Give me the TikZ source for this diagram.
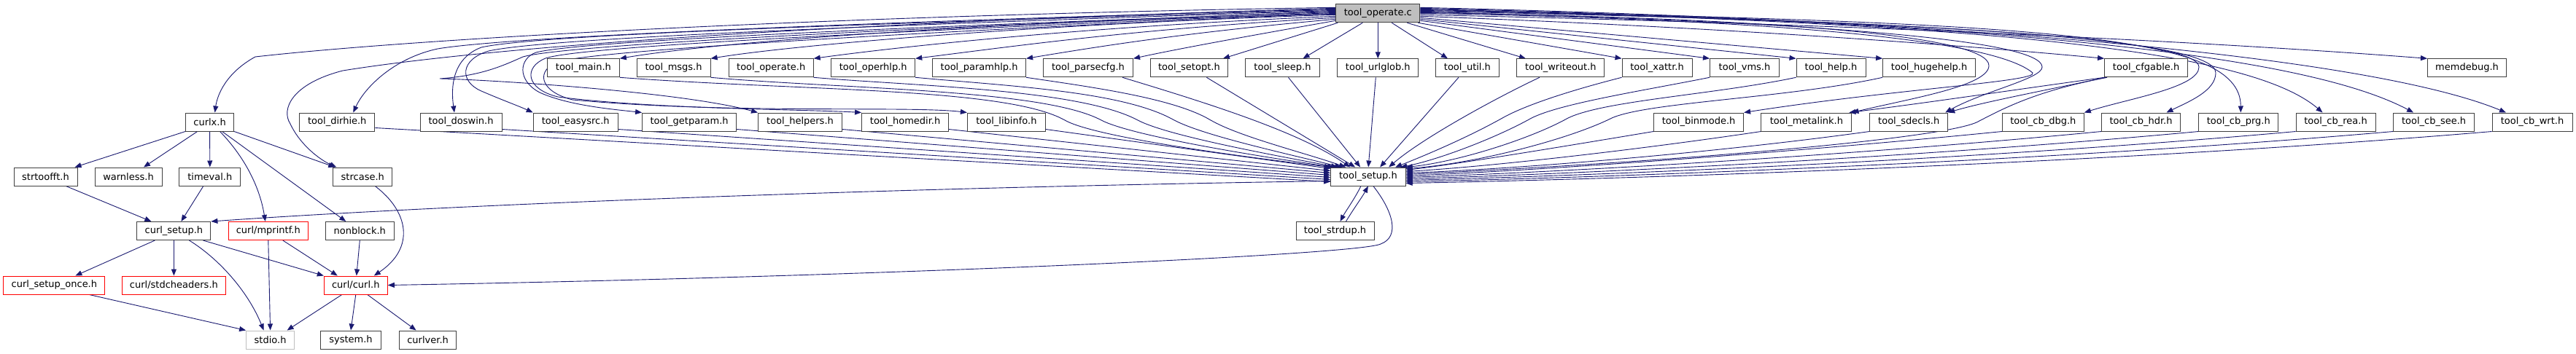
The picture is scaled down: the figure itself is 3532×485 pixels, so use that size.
\documentclass[tikz,border=0pt]{standalone}
\usepackage{fontspec}
\setmainfont{DejaVu Sans}
\usetikzlibrary{arrows.meta}
\pgfdeclarelayer{back}
\pgfdeclarelayer{bg}
\pgfsetlayers{back,bg,main}
\definecolor{edgec}{HTML}{191970}
\definecolor{nborder}{HTML}{404040}
\definecolor{redb}{HTML}{FF0000}
\definecolor{grayb}{HTML}{BFBFBF}
\definecolor{rootfill}{HTML}{BFBFBF}
\begin{document}
\begin{tikzpicture}[x=1pt,y=-1pt,
  nbox/.style={draw=nborder, line width=1pt, fill=white, minimum height=25pt, inner sep=0pt, font=\fontsize{13}{15}\selectfont, text=black},
  redbox/.style={nbox, draw=redb},
  graybox/.style={nbox, draw=grayb},
  rootbox/.style={nbox, fill=rootfill},
  inc/.style={draw=edgec, line width=0.9pt, -{Triangle[length=9pt,width=7pt]}}
]
\useasboundingbox (0,0) rectangle (3532,485);
\begin{pgfonlayer}{back}
\fill[white] (0,0) rectangle (3532,485);
\end{pgfonlayer}

% row 0
\node[rootbox, minimum width=115pt] (op) at (1889.3,18.3) {tool\_operate.c};
% row 1
\node[nbox, minimum width=99pt]  (main)     at (799.9,93.3)  {tool\_main.h};
\node[nbox, minimum width=101pt] (msgs)     at (923.6,93.3)  {tool\_msgs.h};
\node[nbox, minimum width=116pt] (operateh) at (1057.2,93.3) {tool\_operate.h};
\node[nbox, minimum width=115pt] (operhlp)  at (1197.2,93.3) {tool\_operhlp.h};
\node[nbox, minimum width=128pt] (paramhlp) at (1342.6,93.3) {tool\_paramhlp.h};
\node[nbox, minimum width=123pt] (parsecfg) at (1492,93.3)   {tool\_parsecfg.h};
\node[nbox, minimum width=106pt] (setopt)   at (1630.4,93.3) {tool\_setopt.h};
\node[nbox, minimum width=102pt] (sleep)    at (1758.5,93.3) {tool\_sleep.h};
\node[nbox, minimum width=111pt] (urlglob)  at (1889.3,93.3) {tool\_urlglob.h};
\node[nbox, minimum width=87pt]  (util)     at (2011.9,93.3) {tool\_util.h};
\node[nbox, minimum width=120pt] (writeout) at (2139.9,93.3) {tool\_writeout.h};
\node[nbox, minimum width=96pt]  (xattr)    at (2272,93.3)   {tool\_xattr.h};
\node[nbox, minimum width=95pt]  (vms)      at (2392,93.3)   {tool\_vms.h};
\node[nbox, minimum width=95pt]  (help)     at (2510.5,93.3) {tool\_help.h};
\node[nbox, minimum width=127pt] (hugehelp) at (2645.1,93.3) {tool\_hugehelp.h};
\node[nbox, minimum width=114pt] (cfgable)  at (2942.6,93.3) {tool\_cfgable.h};
\node[nbox, minimum width=108pt] (memdebug) at (3382.5,93.3) {memdebug.h};
% row 2
\node[nbox, minimum width=66pt]  (curlx)    at (287.6,167.5)  {curlx.h};
\node[nbox, minimum width=103pt] (dirhie)   at (462.3,167.5)  {tool\_dirhie.h};
\node[nbox, minimum width=112pt] (doswin)   at (632,167.5)    {tool\_doswin.h};
\node[nbox, minimum width=116pt] (easysrc)  at (789.2,167.5)  {tool\_easysrc.h};
\node[nbox, minimum width=129pt] (getparam) at (945.1,167.5)  {tool\_getparam.h};
\node[nbox, minimum width=115pt] (helpers)  at (1097,167.5)   {tool\_helpers.h};
\node[nbox, minimum width=119pt] (homedir)  at (1241.1,167.5) {tool\_homedir.h};
\node[nbox, minimum width=107pt] (libinfo)  at (1379.9,167.5) {tool\_libinfo.h};
\node[nbox, minimum width=123pt] (binmode)  at (2329.1,167.5) {tool\_binmode.h};
\node[nbox, minimum width=124pt] (metalink) at (2476.9,167.5) {tool\_metalink.h};
\node[nbox, minimum width=107pt] (sdecls)   at (2617.2,167.5) {tool\_sdecls.h};
\node[nbox, minimum width=112pt] (cbdbg)    at (2801.3,167.5) {tool\_cb\_dbg.h};
\node[nbox, minimum width=108pt] (cbhdr)    at (2935.5,167.5) {tool\_cb\_hdr.h};
\node[nbox, minimum width=109pt] (cbprg)    at (3069.3,167.5) {tool\_cb\_prg.h};
\node[nbox, minimum width=109pt] (cbrea)    at (3202.5,167.5) {tool\_cb\_rea.h};
\node[nbox, minimum width=111pt] (cbsee)    at (3337.1,167.5) {tool\_cb\_see.h};
\node[nbox, minimum width=110pt] (cbwrt)    at (3472,167.5)   {tool\_cb\_wrt.h};
% row 3
\node[nbox, minimum width=87pt]  (strtoofft) at (62.5,242.5)  {strtoofft.h};
\node[nbox, minimum width=92pt]  (warnless)  at (176,242.5)   {warnless.h};
\node[nbox, minimum width=84pt]  (timeval)   at (287.8,242.5) {timeval.h};
\node[nbox, minimum width=81pt]  (strcase)   at (497.3,242.5) {strcase.h};
\node[nbox, minimum width=102.5pt] (setup)   at (1875.9,242.5) {tool\_setup.h};
% row 4
\node[nbox, minimum width=101pt]   (curlsetup) at (238.4,317) {curl\_setup.h};
\node[redbox, minimum width=109.5pt] (mprintf) at (367.8,317) {curl/mprintf.h};
\node[nbox, minimum width=93.4pt]  (nonblock)  at (493.3,317) {nonblock.h};
\node[nbox, minimum width=107pt]   (strdup)    at (1830.5,317) {tool\_strdup.h};
% row 5
\node[redbox, minimum width=139pt]   (once)  at (74.4,391.5)  {curl\_setup\_once.h};
\node[redbox, minimum width=141.6pt] (stdch) at (238.4,391.5) {curl/stdcheaders.h};
\node[redbox, minimum width=87pt]    (curlh) at (487.8,391.5) {curl/curl.h};
% row 6
\node[graybox, minimum width=66pt] (stdio)   at (370.6,466.5) {stdio.h};
\node[nbox, minimum width=82.7pt]  (system)  at (481,466.5)   {system.h};
\node[nbox, minimum width=78.6pt]  (curlver) at (586.6,466.5) {curlver.h};

\begin{pgfonlayer}{bg}
% ---------- tool_operate.c -> left side
\draw[inc] ([yshift=8pt]op.west) .. controls (1200,20) and (600,50) .. (350,78) .. controls (310,100) and (298,130) .. ([xshift=7pt]curlx.north);
\draw[inc] ([yshift=7pt]op.west) .. controls (1200,30) and (700,60) .. (470,97) .. controls (400,115) and (385,150) .. (398,170) .. controls (412,200) and (440,220) .. ([xshift=5pt]strcase.north west);
\draw[inc] ([yshift=6pt]op.west) .. controls (1200,30) and (700,50) .. (600,67) .. controls (540,80) and (500,120) .. ([xshift=22pt]dirhie.north);
\draw[inc] ([yshift=5pt]op.west) .. controls (1300,30) and (750,45) .. (660,65) .. controls (620,80) and (618,120) .. ([xshift=-9pt]doswin.north);
\draw[inc] ([yshift=4pt]op.west) .. controls (1300,32) and (760,50) .. (670,70) .. controls (630,82) and (630,112) .. (660,125) .. controls (690,138) and (710,145) .. (easysrc.north west);
\draw[inc] ([yshift=3pt]op.west) .. controls (1300,37) and (780,60) .. (717,78) .. controls (690,90) and (660,104) .. (603,108) .. controls (660,109) and (930,125) .. (helpers.north west);
\draw[inc] ([yshift=2pt]op.west) .. controls (1300,35) and (800,55) .. (735,72) .. controls (712,80) and (708,110) .. (740,127) .. controls (780,145) and (840,150) .. (getparam.north west);
\draw[inc] ([yshift=1pt]op.west) .. controls (1300,40) and (800,62) .. (748,80) .. controls (718,92) and (720,122) .. (765,133) .. controls (900,150) and (1100,150) .. (homedir.north west);
\draw[inc] (op.west) .. controls (1300,42) and (820,68) .. (765,85) .. controls (735,96) and (738,125) .. (785,137) .. controls (1000,157) and (1250,145) .. (libinfo.north west);
\draw[inc] ([yshift=-1pt]op.west) .. controls (1400,28) and (1000,55) .. (main.north east);
\draw[inc] ([yshift=-2pt]op.west) .. controls (1450,32) and (1100,60) .. (msgs.north east);
\draw[inc] ([yshift=-4pt]op.west) .. controls (1500,36) and (1250,62) .. (operateh.north east);
\draw[inc] ([yshift=-6pt]op.west) .. controls (1550,40) and (1380,65) .. (operhlp.north east);
\draw[inc] ([yshift=-8pt]op.west) .. controls (1620,45) and (1500,65) .. (paramhlp.north east);
\draw[inc] ([yshift=-10pt]op.west) .. controls (1720,48) and (1620,66) .. (parsecfg.north east);
\draw[inc] ([xshift=3pt]op.south west) -- ([xshift=-7pt]setopt.north east);
\draw[inc] ([xshift=-21pt]op.south) -- ([xshift=28pt]sleep.north);
\draw[inc] (op.south) -- (urlglob.north);
\draw[inc] ([xshift=19pt]op.south) -- ([xshift=-27pt]util.north);
\draw[inc] ([xshift=40pt]op.south) -- ([xshift=-48pt]writeout.north);
\draw[inc] ([xshift=-3pt]op.south east) -- (xattr.north west);
% ---------- tool_operate.c -> right side
\draw[inc] ([yshift=-10pt]op.east) -- (vms.north west);
\draw[inc] ([yshift=-8pt]op.east) -- (help.north west);
\draw[inc] ([yshift=-6pt]op.east) -- (hugehelp.north west);
\draw[inc] ([yshift=-4pt]op.east) .. controls (2300,35) and (2650,58) .. (cfgable.north west);
\draw[inc] ([yshift=-2pt]op.east) .. controls (2500,32) and (3000,55) .. (memdebug.north west);
\draw[inc] (op.east) .. controls (2500,28) and (2740,60) .. (2787,100) .. controls (2795,112) and (2600,122) .. (binmode.north east);
\draw[inc] ([yshift=1pt]op.east) .. controls (2450,25) and (2727,50) .. (2727,90) .. controls (2727,118) and (2620,135) .. (metalink.north east);
\draw[inc] ([yshift=2pt]op.east) .. controls (2500,30) and (2800,55) .. (2800,92) .. controls (2800,108) and (2720,125) .. ([xshift=-4pt]sdecls.north east);
\draw[inc] ([yshift=3pt]op.east) .. controls (2700,30) and (3015,55) .. (3015,92) .. controls (3015,120) and (2920,135) .. (cbdbg.north east);
\draw[inc] ([yshift=4pt]op.east) .. controls (2700,30) and (3038,55) .. (3038,100) .. controls (3038,125) and (3000,140) .. ([xshift=35pt]cbhdr.north);
\draw[inc] ([yshift=5pt]op.east) .. controls (2800,32) and (3072,45) .. ([xshift=3pt]cbprg.north);
\draw[inc] ([yshift=6pt]op.east) .. controls (2700,32) and (3080,65) .. ([xshift=-18pt]cbrea.north);
\draw[inc] ([yshift=7pt]op.east) .. controls (2700,30) and (3150,70) .. ([xshift=-28pt]cbsee.north);
\draw[inc] ([yshift=8pt]op.east) .. controls (2700,28) and (3250,78) .. ([xshift=-36pt]cbwrt.north);
% ---------- tool_cfgable.h
\draw[inc] ([xshift=2pt]cfgable.south west) .. controls (2800,125) and (2720,140) .. (sdecls.north east);
\draw[inc] (cfgable.south west) .. controls (2750,125) and (2650,140) .. ([xshift=-4pt]metalink.north east);
% ---------- into tool_setup.h, left
\draw[inc] ([yshift=-8pt]dirhie.east) -- ([yshift=-20pt]setup.north west);
\draw[inc] ([yshift=-10pt]doswin.east) -- ([yshift=-17pt]setup.north west);
\draw[inc] ([yshift=-10pt]easysrc.east) -- ([yshift=-14pt]setup.north west);
\draw[inc] ([yshift=-10pt]getparam.east) -- ([yshift=-11pt]setup.north west);
\draw[inc] ([yshift=-10pt]helpers.east) -- ([yshift=-8pt]setup.north west);
\draw[inc] ([yshift=-10pt]homedir.east) -- ([yshift=-5pt]setup.north west);
\draw[inc] ([yshift=-10pt]libinfo.east) -- ([yshift=-2pt]setup.north west);
\draw[inc] (main.south east) .. controls (1100,125) and (1380,120) .. (1460,165) .. controls (1500,188) and (1700,215) .. ([xshift=1pt]setup.north west);
\draw[inc] (msgs.south east) .. controls (1150,122) and (1430,122) .. (1510,165) .. controls (1550,186) and (1720,214) .. ([xshift=5pt]setup.north west);
\draw[inc] (operateh.south east) .. controls (1250,118) and (1480,122) .. (1560,165) .. controls (1600,186) and (1740,212) .. ([xshift=10pt]setup.north west);
\draw[inc] (operhlp.south east) .. controls (1380,118) and (1540,125) .. (1610,165) .. controls (1650,186) and (1760,210) .. ([xshift=15pt]setup.north west);
\draw[inc] (paramhlp.south east) .. controls (1500,120) and (1610,135) .. (1660,165) .. controls (1700,188) and (1790,210) .. ([xshift=21pt]setup.north west);
\draw[inc] ([xshift=-15pt]parsecfg.south east) .. controls (1650,140) and (1780,180) .. ([xshift=27pt]setup.north west);
\draw[inc] ([xshift=24pt]setopt.south) -- ([xshift=34pt]setup.north west);
\draw[inc] ([xshift=8pt]sleep.south) -- ([xshift=41pt]setup.north west);
\draw[inc] ([xshift=-3pt]urlglob.south) -- ([xshift=52pt]setup.north west);
% ---------- into tool_setup.h, right
\draw[inc] ([xshift=-12pt]util.south) -- ([xshift=68pt]setup.north west);
\draw[inc] ([xshift=-29pt]writeout.south) .. controls (2050,135) and (1950,190) .. ([xshift=80pt]setup.north west);
\draw[inc] (xattr.south west) .. controls (2150,125) and (2090,145) .. (2060,162) .. controls (2010,190) and (1950,215) .. ([xshift=89pt]setup.north west);
\draw[inc] (vms.south west) .. controls (2250,125) and (2140,142) .. (2100,162) .. controls (2050,190) and (1970,220) .. ([xshift=96pt]setup.north west);
\draw[inc] (help.south west) .. controls (2350,130) and (2200,138) .. (2150,162) .. controls (2100,190) and (2000,222) .. (setup.north east);
\draw[inc] (hugehelp.south west) .. controls (2450,135) and (2260,140) .. (2210,162) .. controls (2150,192) and (2020,225) .. ([yshift=-2pt]setup.north east);
\draw[inc] (binmode.south west) .. controls (2150,200) and (2000,225) .. ([yshift=-4pt]setup.north east);
\draw[inc] (metalink.south west) .. controls (2250,205) and (2050,228) .. ([yshift=-6pt]setup.north east);
\draw[inc] (sdecls.south west) .. controls (2350,210) and (2080,232) .. ([yshift=-8pt]setup.north east);
\draw[inc] ([xshift=4pt]cfgable.south west) .. controls (2790,125) and (2745,150) .. (2712,167) .. controls (2670,190) and (2300,222) .. ([yshift=-10pt]setup.north east);
\draw[inc] (cbdbg.south west) .. controls (2500,205) and (2150,232) .. ([yshift=-12pt]setup.north east);
\draw[inc] (cbhdr.south west) .. controls (2600,208) and (2200,234) .. ([yshift=-14pt]setup.north east);
\draw[inc] (cbprg.south west) .. controls (2700,210) and (2250,236) .. ([yshift=-16pt]setup.north east);
\draw[inc] (cbrea.south west) .. controls (2800,212) and (2300,238) .. ([yshift=-18pt]setup.north east);
\draw[inc] (cbsee.south west) .. controls (2900,214) and (2350,240) .. ([yshift=-20pt]setup.north east);
\draw[inc] (cbwrt.south west) .. controls (3000,216) and (2400,242) .. ([yshift=-22pt]setup.north east);
% ---------- tool_setup.h
\draw[inc] ([yshift=-6pt]setup.west) .. controls (1200,258) and (600,282) .. (curlsetup.north east);
\draw[inc] ([xshift=7pt]setup.south) .. controls (1910,290) and (1920,325) .. (1893,335) .. controls (1860,350) and (1200,380) .. (curlh.east);
\draw[inc] ([xshift=-10pt]setup.south) .. controls (1858,272) and (1845,290) .. ([xshift=7pt]strdup.north);
\draw[inc] ([xshift=15pt]strdup.north) .. controls (1855,288) and (1868,270) .. (setup.south);
% ---------- curlx.h subtree
\draw[inc] (curlx.south west) -- ([xshift=40pt]strtoofft.north);
\draw[inc] ([xshift=-17pt]curlx.south) -- ([xshift=21pt]warnless.north);
\draw[inc] (curlx.south) -- (timeval.north);
\draw[inc] ([xshift=14pt]curlx.south) .. controls (330,210) and (355,250) .. ([xshift=-4pt]mprintf.north);
\draw[inc] ([xshift=17pt]curlx.south) -- ([xshift=-19pt]nonblock.north);
\draw[inc] (curlx.south east) -- ([xshift=-38pt]strcase.north);
\draw[inc] ([xshift=28pt]strtoofft.south) -- ([xshift=-31pt]curlsetup.north);
\draw[inc] ([xshift=-9pt]timeval.south) -- ([xshift=10pt]curlsetup.north);
\draw[inc] ([xshift=17pt]strcase.south) .. controls (560,290) and (570,340) .. ([xshift=25pt]curlh.north);
\draw[inc] (nonblock.south) -- ([xshift=1pt]curlh.north);
\draw[inc] (mprintf.south) -- (stdio.north);
\draw[inc] ([xshift=20pt]mprintf.south) -- ([xshift=-25pt]curlh.north);
\draw[inc] ([xshift=-26pt]curlsetup.south) -- ([xshift=29pt]once.north);
\draw[inc] (curlsetup.south) -- (stdch.north);
\draw[inc] ([xshift=21pt]curlsetup.south) .. controls (300,355) and (340,400) .. ([xshift=-9pt]stdio.north);
\draw[inc] ([xshift=40pt]curlsetup.south) -- (curlh.north west);
\draw[inc] ([xshift=48pt]once.south) -- (stdio.north west);
\draw[inc] ([xshift=-19pt]curlh.south) -- ([xshift=23pt]stdio.north);
\draw[inc] (curlh.south) -- (system.north);
\draw[inc] ([xshift=16pt]curlh.south) -- ([xshift=-16pt]curlver.north);
\end{pgfonlayer}
\end{tikzpicture}
\end{document}
